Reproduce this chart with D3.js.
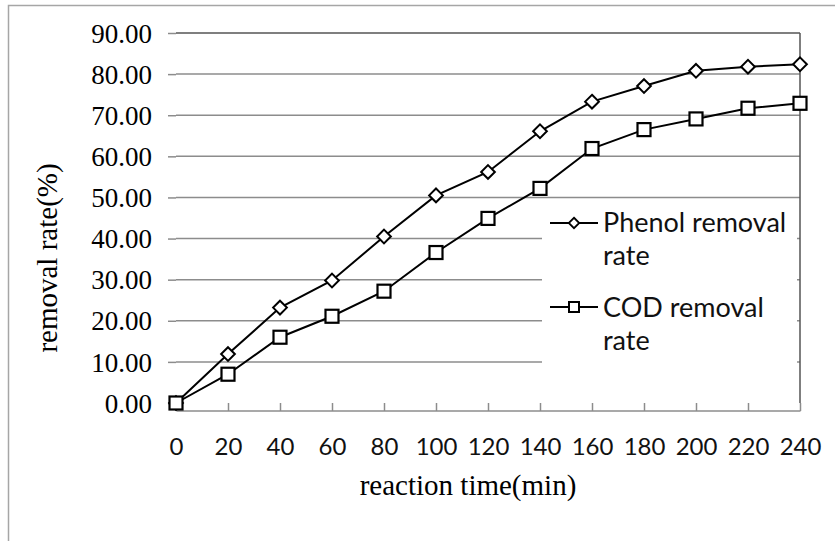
<!DOCTYPE html>
<html>
<head>
<meta charset="utf-8">
<script src="https://cdn.jsdelivr.net/npm/d3@7"></script>
<style>
  body { margin: 0; background: #fff; }
  svg { display: block; }
  .serif { font-family: "Liberation Serif", "Times New Roman", serif; fill: #000; }
  .sans { font-family: Lato, "Open Sans", sans-serif; fill: #111; }
</style>
</head>
<body>
<svg id="chart" width="835" height="541"></svg>
<script>
// reaction time (min)
const times = [0, 20, 40, 60, 80, 100, 120, 140, 160, 180, 200, 220, 240]
const phenol = [0, 11.9, 23.2, 29.8, 40.5, 50.5, 56.2, 66.1, 73.3, 77.1, 80.8, 81.8, 82.4]
const cod = [0, 7.0, 16.0, 21.1, 27.2, 36.6, 44.9, 52.2, 61.9, 66.5, 69.1, 71.7, 72.9]
const yTicks = [0, 10, 20, 30, 40, 50, 60, 70, 80, 90]
const seriesNames = [['Phenol removal', 'rate'], ['COD removal', 'rate']]

const svg = d3.select('#chart')
const margin = {left: 176, top: 33, right: 35, bottom: 138}
const width = 835, height = 541
const x = d3.scaleLinear().domain([0, 240]).range([margin.left, width - margin.right])
const y = d3.scaleLinear().domain([0, 90]).range([height - margin.bottom, margin.top])

// outer chart border
svg.append('rect')
  .attr('x', 8.5).attr('y', 5.5)
  .attr('width', 900).attr('height', 600)
  .attr('fill', 'none').attr('stroke', '#a6a6a6').attr('stroke-width', 1.5)

// gridlines
svg.append('g')
  .selectAll('line')
  .data(yTicks.slice(1))
  .enter().append('line')
  .attr('x1', x(0)).attr('x2', x(240))
  .attr('y1', d => y(d)).attr('y2', d => y(d))
  .attr('stroke', d => d === 90 ? '#555' : '#8c8c8c')
  .attr('stroke-width', 1.5)

// right border of plot
svg.append('line')
  .attr('x1', x(240)).attr('x2', x(240))
  .attr('y1', y(90)).attr('y2', y(0))
  .attr('stroke', '#555').attr('stroke-width', 1.5)

// y axis
let yAxis = svg.append('g')
  .attr('transform', `translate(${x(0)},0)`)
  .call(d3.axisLeft(y).tickValues(yTicks).tickSize(8).tickPadding(16).tickFormat(d3.format('.2f')))
yAxis.select('.domain').attr('stroke', '#8c8c8c').attr('stroke-width', 1.5)
yAxis.selectAll('.tick line').attr('stroke', '#8c8c8c').attr('stroke-width', 1.5)
yAxis.selectAll('.tick text')
  .attr('class', 'serif')
  .attr('font-size', 27)
  .attr('dy', '0.34em')
  .attr('fill', '#000')

// x axis
let xAxis = svg.append('g')
  .attr('transform', `translate(0,${y(0)})`)
  .call(d3.axisBottom(x).tickValues(times).tickSize(8).tickPadding(27))
xAxis.select('.domain').attr('stroke', '#8c8c8c').attr('stroke-width', 1.5)
xAxis.selectAll('.tick line').attr('stroke', '#8c8c8c').attr('stroke-width', 1.5)
xAxis.selectAll('.tick text')
  .attr('class', 'sans')
  .attr('font-size', 24)
  .attr('fill', '#111')
svg.selectAll('.domain').attr('d', function () { return d3.select(this).attr('d').replace(/V-?\d+(\.\d+)?/g, '') })

// axis titles
svg.append('text')
  .attr('class', 'serif')
  .attr('x', 468).attr('y', 495)
  .attr('text-anchor', 'middle')
  .attr('font-size', 29)
  .text('reaction time(min)')

svg.append('text')
  .attr('class', 'serif')
  .attr('transform', 'translate(57,258) rotate(-90)')
  .attr('text-anchor', 'middle')
  .attr('font-size', 29)
  .text('removal rate(%)')

// lines
const line = d3.line().x((d, i) => x(times[i])).y(d => y(d))
const diamond = d3.symbol().type(d3.symbolDiamond2).size(120)

svg.append('path').datum(phenol)
  .attr('d', line).attr('fill', 'none').attr('stroke', '#000').attr('stroke-width', 2)
svg.append('path').datum(cod)
  .attr('d', line).attr('fill', 'none').attr('stroke', '#000').attr('stroke-width', 2)

svg.append('g').selectAll('path')
  .data(phenol)
  .enter().append('path')
  .attr('d', diamond)
  .attr('transform', (d, i) => `translate(${x(times[i])},${y(d)})`)
  .attr('fill', '#fff').attr('stroke', '#000').attr('stroke-width', 2)

svg.append('g').selectAll('rect')
  .data(cod)
  .enter().append('rect')
  .attr('x', (d, i) => x(times[i]) - 6.5)
  .attr('y', d => y(d) - 6.5)
  .attr('width', 13).attr('height', 13)
  .attr('fill', '#fff').attr('stroke', '#000').attr('stroke-width', 2.2)

// legend
let legend = svg.append('g')
legend.append('rect')
  .attr('x', 542).attr('y', 200)
  .attr('width', 255).attr('height', 182)
  .attr('fill', '#fff')

seriesNames.forEach((names, k) => {
  let cy = 223 + k * 84
  legend.append('line')
    .attr('x1', 550).attr('x2', 598)
    .attr('y1', cy).attr('y2', cy)
    .attr('stroke', '#000').attr('stroke-width', 2)
  if (k === 0) {
    legend.append('path')
      .attr('d', d3.symbol().type(d3.symbolDiamond2).size(70))
      .attr('transform', `translate(574,${cy})`)
      .attr('fill', '#fff').attr('stroke', '#000').attr('stroke-width', 1.8)
  } else {
    legend.append('rect')
      .attr('x', 569).attr('y', cy - 5)
      .attr('width', 10).attr('height', 10)
      .attr('fill', '#fff').attr('stroke', '#000').attr('stroke-width', 2)
  }
  names.forEach((t, j) => {
    legend.append('text')
      .attr('class', 'sans')
      .attr('x', 603).attr('y', 232 + k * 85 + j * 33)
      .attr('font-size', 27)
      .text(t)
  })
})
</script>
</body>
</html>
